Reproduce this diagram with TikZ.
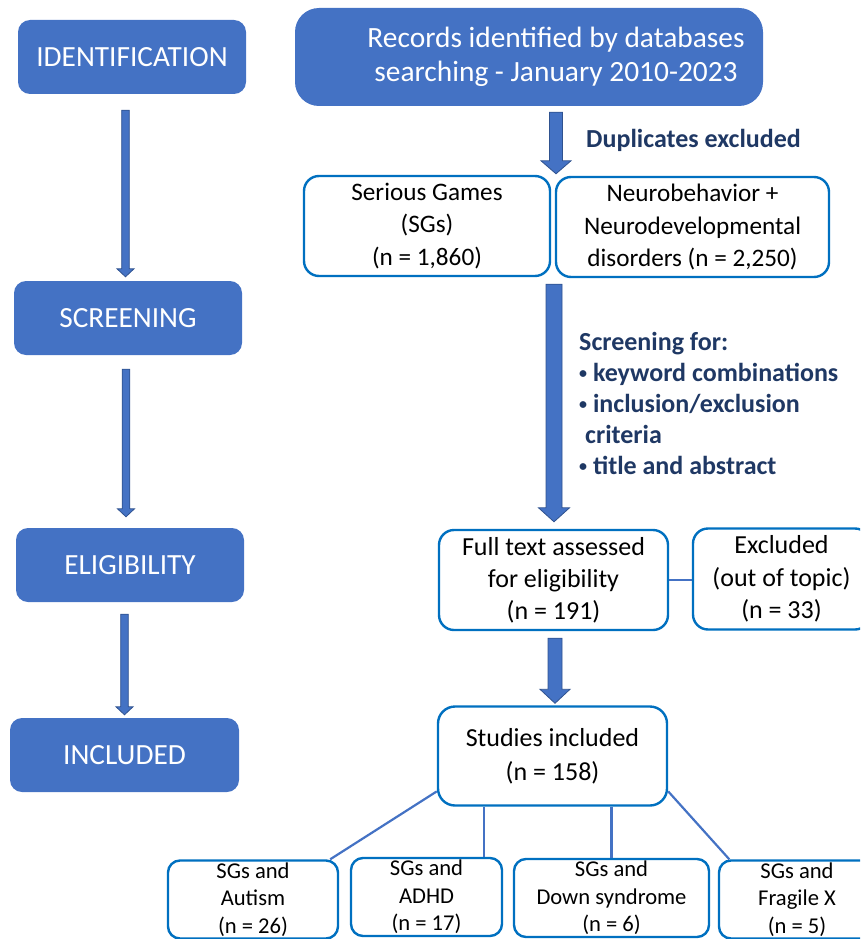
\documentclass[tikz,border=0pt]{standalone}
\usepackage{fontspec}
\setmainfont{Carlito}
\usetikzlibrary{calc}

\definecolor{stageblue}{HTML}{4472C4}
\definecolor{stageline}{HTML}{2F528F}
\definecolor{boxline}{HTML}{0070C0}
\definecolor{notenavy}{HTML}{1F3864}

% small list bullet
\newcommand{\listdot}{\raisebox{2.5pt}{\fontsize{16}{16}\selectfont•}}

% block arrow: top point, tip point, half shaft, half head, head length
\newcommand{\blockarrow}[5]{%
  \draw[fill=stageblue, draw=stageline, line width=0.8pt, line join=miter]
    let \p1=(#1), \p2=(#2) in
    (\x1-#3,\y1) -- (\x1+#3,\y1) -- (\x1+#3,\y2+#5) -- (\x1+#4,\y2+#5)
    -- (\x1,\y2) -- (\x1-#4,\y2+#5) -- (\x1-#3,\y2+#5) -- cycle;}

\begin{document}
\begin{tikzpicture}[
    x=1pt, y=-1pt,
    stage/.style={fill=stageblue, text=white, rounded corners=12pt, minimum width=228pt, minimum height=74pt, inner sep=0pt, font=\fontsize{29.3}{34}\selectfont},
    record/.style={fill=stageblue, text=white, rounded corners=24pt, minimum width=468pt, minimum height=98pt, inner sep=0pt, align=center, font=\fontsize{29.4}{33.5}\selectfont},
    box/.style={draw=boxline, line width=2.4pt, fill=white, rounded corners=15pt, align=center, inner sep=0pt, font=\fontsize{25.2}{32.5}\selectfont},
    subbox/.style={box, rounded corners=12pt, minimum height=78pt, font=\fontsize{22.6}{27.5}\selectfont},
    note/.style={text=notenavy, font=\bfseries\fontsize{26}{31}\selectfont, align=left, inner sep=0pt},
    link/.style={draw=stageblue, line width=2.2pt}
]
    \clip (0,0) rectangle (860,939);

    % Stages (left column)
    \node [stage] (ident) at (132,57) {IDENTIFICATION};
    \node [stage] (screen) at (128,318) {SCREENING};
    \node [stage] (elig) at (130,565) {ELIGIBILITY};
    \node [stage, minimum width=229pt] (incl) at (124.5,755) {INCLUDED};

    \blockarrow{$(ident.south)+(-6.5,16)$}{$(screen.north)+(0,-4)$}{3.8}{8.5}{8}
    \blockarrow{$(screen.south)+(-2,14)$}{$(elig.north)+(0,-11)$}{3.8}{8.5}{8}
    \blockarrow{$(elig.south)+(-5.5,12)$}{$(incl.north)+(0,-3)$}{3.8}{8.5}{8}

    % Records
    \node [record] (records) at (529,57) {\hspace*{54pt}Records identified by databases\\\hspace*{54pt}searching - January 2010-2023};
    \node [box, minimum width=246pt, minimum height=100pt] (games) at (427,226) {Serious Games\\(SGs)\\(n = 1,860)};
    \node [box, minimum width=273pt, minimum height=100pt] (disorders) at (692.5,227) {Neurobehavior +\\Neurodevelopmental\\disorders (n = 2,250)};
    \node [note, anchor=west] (dupl) at (586,140) {Duplicates excluded};

    \blockarrow{$(records.south)+(27,6)$}{$(games.north)+(0,-1)$}{6.5}{15}{13}

    % Screening and eligibility
    \node [note, anchor=west] (criteria) at (579,403) {Screening for:\\\listdot{} keyword combinations\\\listdot{} inclusion/exclusion\\\hspace*{6pt}criteria\\\listdot{} title and abstract};
    \node [box, minimum width=229pt, minimum height=100pt, font=\fontsize{26}{32}\selectfont] (fulltext) at (553.5,580) {Full text assessed\\for eligibility\\(n = 191)};
    \node [box, minimum width=177pt, minimum height=101pt, font=\fontsize{26}{32.5}\selectfont] (excluded) at (781.5,579) {Excluded\\(out of topic)\\(n = 33)};

    \blockarrow{$(games.south -| fulltext.north)+(0.5,7)$}{$(fulltext.north)+(0,-7)$}{8}{15.5}{14}
    \draw [link] (fulltext.east) -- (fulltext.east -| excluded.west);

    % Included studies
    \node [box, minimum width=229pt, minimum height=99pt, rounded corners=17pt, font=\fontsize{26}{34}\selectfont] (studies) at (552.5,756) {Studies included\\(n = 158)};
    \blockarrow{$(fulltext.south)+(1.5,7)$}{$(studies.north)+(0,-2)$}{7}{15}{14}

    \node [subbox, minimum width=170pt] (autism) at (253,899.5) {SGs and\\Autism\\(n = 26)};
    \node [subbox, minimum width=151pt] (adhd) at (426.5,897) {SGs and\\ADHD\\(n = 17)};
    \node [subbox, minimum width=195pt] (down) at (611.5,898) {SGs and\\Down syndrome\\(n = 6)};
    \node [subbox, minimum width=156pt] (fragile) at (797,899.5) {SGs and\\Fragile X\\(n = 5)};

    % Connections
    \coordinate (adhdtop) at ($(adhd.north east)+(-19,0)$);
    \draw [link] (studies.197) -- ($(autism.north east)+(-9,0)$);
    \draw [link] (studies.south -| adhdtop) -- (adhdtop);
    \draw [link] (studies.south -| down.north) -- (down.north);
    \draw [link] (studies.-17) -- ($(fragile.north west)+(11.5,0)$);

\end{tikzpicture}
\end{document}
